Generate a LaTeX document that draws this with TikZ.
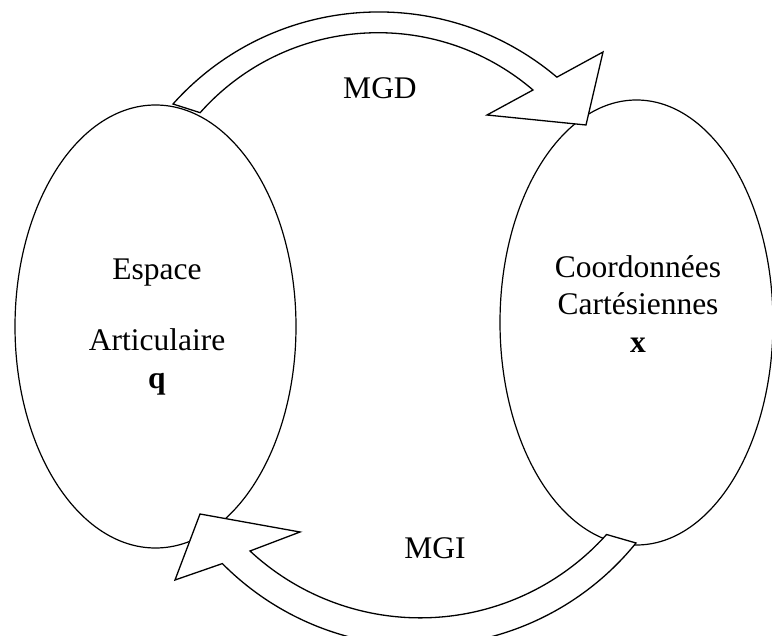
\documentclass[tikz,border=0pt]{standalone}
\usepackage{fontspec}
\setmainfont{Liberation Serif}
\usetikzlibrary{shapes.geometric}

\begin{document}
\begin{tikzpicture}[
  x=1pt, y=1pt,
  font=\fontsize{31.5}{37.5}\selectfont,
  ell/.style={draw, ellipse, line width=1.2pt, inner sep=0pt},
  txt/.style={align=center, inner sep=0pt},
  blk/.style={draw, fill=white, line width=1.3pt, line join=miter},
]
\useasboundingbox (0,0) rectangle (772,-636);
% les deux espaces
\node[ell, minimum width=281pt, minimum height=443pt] (esp) at (155.5,-326.5) {};
\node[ell, minimum width=273pt, minimum height=445pt] (cart) at (636.5,-322.5) {};
\node[txt] (esptxt) at (157,-327) {Espace\\[34pt]Articulaire\\\textbf{q}};
\node[txt] (carttxt) at (638,-304) {Coordonnées\\Cartésiennes\\\textbf{x}};
% fleches MGD / MGI
\coordinate (mgdtail) at (173,-104);
\coordinate (mgdtip) at (586,-125);
\coordinate (mgitail) at (636,-543);
\coordinate (mgitip) at (200,-514);
\draw[blk] (mgdtail) arc[start angle=138.2, end angle=49.8, radius=276pt]
  -- (603,-52) -- (mgdtip) -- (487,-115) -- (533,-90)
  arc[start angle=49.4, end angle=138.4, radius=238pt] -- cycle;
\draw[blk] (mgitail) arc[start angle=-39, end angle=-135.3, radius=278pt]
  -- (175,-580) -- (mgitip) -- (300,-532) -- (250,-551)
  arc[start angle=-132.9, end angle=-41.8, radius=250pt] -- cycle;
\node (mgd) at (380,-88) {MGD};
\node (mgi) at (435,-548) {MGI};
\end{tikzpicture}
\end{document}
